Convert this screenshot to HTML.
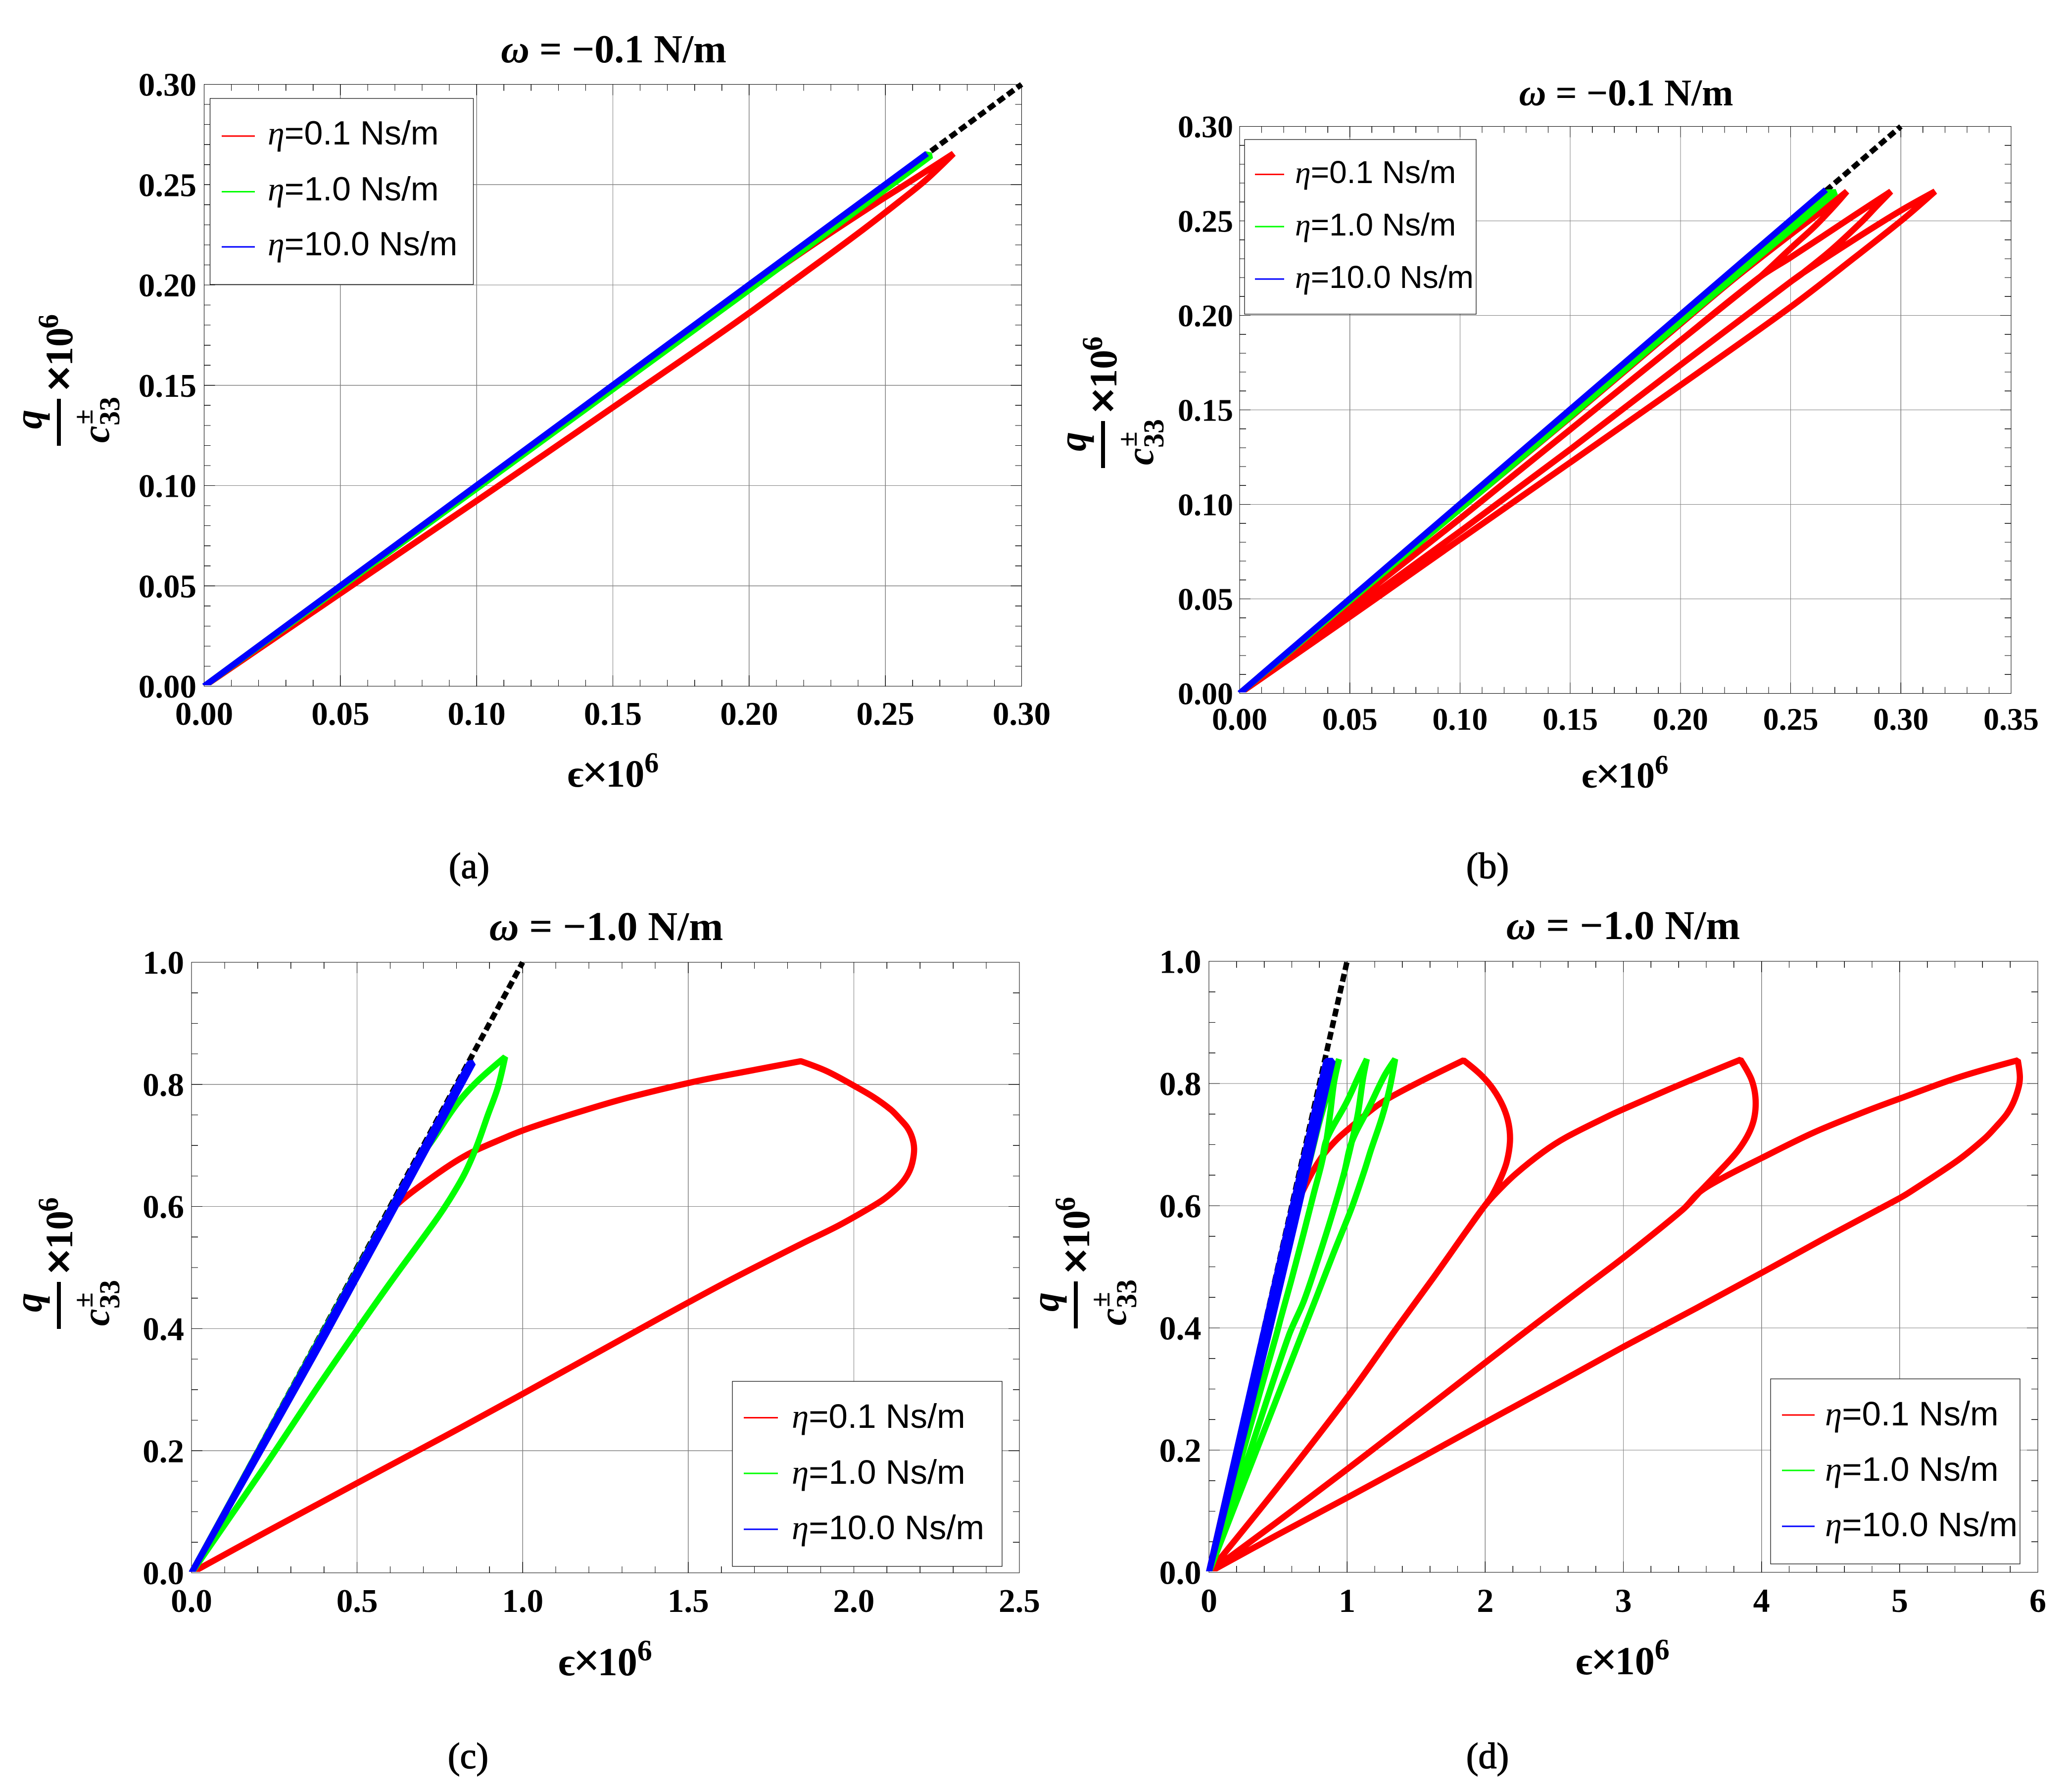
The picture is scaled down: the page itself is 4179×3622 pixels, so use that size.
<!DOCTYPE html>
<html lang="en">
<head>
<meta charset="utf-8">
<title>Strain versus stress loops for varying viscosity</title>
<style>
html,body{margin:0;padding:0;background:#fff;}
svg{display:block;}
.serif{font-family:"Liberation Serif","DejaVu Serif",serif;}
.b{font-family:"Liberation Serif","DejaVu Serif",serif;font-weight:bold;fill:#000;}
.bi{font-family:"Liberation Serif","DejaVu Serif",serif;font-weight:bold;font-style:italic;fill:#000;}
.leg{font-family:"Liberation Sans",sans-serif;fill:#000;}
.eta{font-family:"Liberation Serif","DejaVu Serif",serif;font-style:italic;}
.times{stroke:#000;stroke-width:2px;}
.sub{font-family:"Liberation Serif","DejaVu Serif",serif;font-size:74px;fill:#000;stroke:#000;stroke-width:1.4px;text-anchor:middle;}
</style>
</head>
<body>
<svg xmlns="http://www.w3.org/2000/svg" id="figure" width="4179" height="3622" viewBox="0 0 4179 3622">
<rect x="0" y="0" width="4179" height="3622" fill="#fff"/>
<defs id="clip-defs"></defs>

<!-- PANEL A -->
<g>
  <g id="marks-a"></g>
  <text class="b" x="1240" y="126" font-size="80" text-anchor="middle"><tspan class="bi">ω</tspan> = −0.1 N/m</text>
  <text class="b" x="1239" y="1590" font-size="78" text-anchor="middle">ϵ<tspan font-size="94" dx="-4" dy="2">×</tspan><tspan dx="-5" dy="-2">10</tspan><tspan font-size="58" dy="-29">6</tspan></text>
  <g transform="translate(0,0)">
    <text class="bi" font-size="78" transform="translate(84,867) rotate(-90)">q</text>
    <rect x="115" y="806" width="8" height="95" fill="#000"/>
    <text class="bi" font-size="78" transform="translate(220,895) rotate(-90)">c</text>
    <text class="b" font-size="56" transform="translate(187,858) rotate(-90)">±</text>
    <text class="b" font-size="58" transform="translate(241,860) rotate(-90)">33</text>
    <text class="b times" font-size="96" transform="translate(151,792) rotate(-90)">×</text>
    <text class="b" font-size="78" transform="translate(146,740) rotate(-90)">10</text>
    <text class="b" font-size="58" transform="translate(117,664) rotate(-90)">6</text>
  </g>
  <g>
    <rect x="424.5" y="199" width="532" height="376" fill="#fff" stroke="#000" stroke-width="1.2"/>
    <g><rect x="448" y="273.5" width="67" height="3" fill="#f00"/><text class="leg" x="541" y="292" font-size="68"><tspan class="eta">η</tspan>=0.1 Ns/m</text></g>
    <g><rect x="448" y="386" width="67" height="3" fill="#0f0"/><text class="leg" x="541" y="405" font-size="68"><tspan class="eta">η</tspan>=1.0 Ns/m</text></g>
    <g><rect x="448" y="497.5" width="67" height="3" fill="#00f"/><text class="leg" x="541" y="516" font-size="68"><tspan class="eta">η</tspan>=10.0 Ns/m</text></g>
  </g>
  <text class="sub" x="948" y="1775">(a)</text>
</g>

<!-- PANEL B -->
<g>
  <g id="marks-b"></g>
  <text class="b" x="3286" y="213" font-size="76" text-anchor="middle"><tspan class="bi">ω</tspan> = −0.1 N/m</text>
  <text class="b" x="3284" y="1592" font-size="74" text-anchor="middle">ϵ<tspan font-size="90" dx="-4" dy="2">×</tspan><tspan dx="-5" dy="-2">10</tspan><tspan font-size="55" dy="-28">6</tspan></text>
  <g transform="translate(2110,45)">
    <text class="bi" font-size="78" transform="translate(84,867) rotate(-90)">q</text>
    <rect x="115" y="806" width="8" height="95" fill="#000"/>
    <text class="bi" font-size="78" transform="translate(220,895) rotate(-90)">c</text>
    <text class="b" font-size="56" transform="translate(187,858) rotate(-90)">±</text>
    <text class="b" font-size="58" transform="translate(241,860) rotate(-90)">33</text>
    <text class="b times" font-size="96" transform="translate(151,792) rotate(-90)">×</text>
    <text class="b" font-size="78" transform="translate(146,740) rotate(-90)">10</text>
    <text class="b" font-size="58" transform="translate(117,664) rotate(-90)">6</text>
  </g>
  <g>
    <rect x="2515" y="282" width="468" height="353" fill="#fff" stroke="#000" stroke-width="1.2"/>
    <g><rect x="2536" y="351" width="59" height="3" fill="#f00"/><text class="leg" x="2617" y="370" font-size="64"><tspan class="eta">η</tspan>=0.1 Ns/m</text></g>
    <g><rect x="2536" y="456.5" width="59" height="3" fill="#0f0"/><text class="leg" x="2617" y="476" font-size="64"><tspan class="eta">η</tspan>=1.0 Ns/m</text></g>
    <g><rect x="2536" y="562.5" width="59" height="3" fill="#00f"/><text class="leg" x="2617" y="582" font-size="64"><tspan class="eta">η</tspan>=10.0 Ns/m</text></g>
  </g>
  <text class="sub" x="3006" y="1775">(b)</text>
</g>

<!-- PANEL C -->
<g>
  <g id="marks-c"></g>
  <text class="b" x="1225" y="1900" font-size="83" text-anchor="middle"><tspan class="bi">ω</tspan> = −1.0 N/m</text>
  <text class="b" x="1223" y="3386" font-size="80" text-anchor="middle">ϵ<tspan font-size="96" dx="-4" dy="2">×</tspan><tspan dx="-5" dy="-2">10</tspan><tspan font-size="60" dy="-30">6</tspan></text>
  <g transform="translate(0,1785)">
    <text class="bi" font-size="78" transform="translate(84,867) rotate(-90)">q</text>
    <rect x="115" y="806" width="8" height="95" fill="#000"/>
    <text class="bi" font-size="78" transform="translate(220,895) rotate(-90)">c</text>
    <text class="b" font-size="56" transform="translate(187,858) rotate(-90)">±</text>
    <text class="b" font-size="58" transform="translate(241,860) rotate(-90)">33</text>
    <text class="b times" font-size="96" transform="translate(151,792) rotate(-90)">×</text>
    <text class="b" font-size="78" transform="translate(146,740) rotate(-90)">10</text>
    <text class="b" font-size="58" transform="translate(117,664) rotate(-90)">6</text>
  </g>
  <g>
    <rect x="1480" y="2792" width="545" height="374" fill="#fff" stroke="#000" stroke-width="1.2"/>
    <g><rect x="1503" y="2864" width="69" height="3" fill="#f00"/><text class="leg" x="1600" y="2886" font-size="69"><tspan class="eta">η</tspan>=0.1 Ns/m</text></g>
    <g><rect x="1503" y="2976.5" width="69" height="3" fill="#0f0"/><text class="leg" x="1600" y="2999" font-size="69"><tspan class="eta">η</tspan>=1.0 Ns/m</text></g>
    <g><rect x="1503" y="3089.5" width="69" height="3" fill="#00f"/><text class="leg" x="1600" y="3111" font-size="69"><tspan class="eta">η</tspan>=10.0 Ns/m</text></g>
  </g>
  <text class="sub" x="946" y="3574">(c)</text>
</g>

<!-- PANEL D -->
<g>
  <g id="marks-d"></g>
  <text class="b" x="3280" y="1898" font-size="83" text-anchor="middle"><tspan class="bi">ω</tspan> = −1.0 N/m</text>
  <text class="b" x="3279" y="3384" font-size="80" text-anchor="middle">ϵ<tspan font-size="96" dx="-4" dy="2">×</tspan><tspan dx="-5" dy="-2">10</tspan><tspan font-size="60" dy="-30">6</tspan></text>
  <g transform="translate(2055,1784)">
    <text class="bi" font-size="78" transform="translate(84,867) rotate(-90)">q</text>
    <rect x="115" y="806" width="8" height="95" fill="#000"/>
    <text class="bi" font-size="78" transform="translate(220,895) rotate(-90)">c</text>
    <text class="b" font-size="56" transform="translate(187,858) rotate(-90)">±</text>
    <text class="b" font-size="58" transform="translate(241,860) rotate(-90)">33</text>
    <text class="b times" font-size="96" transform="translate(151,792) rotate(-90)">×</text>
    <text class="b" font-size="78" transform="translate(146,740) rotate(-90)">10</text>
    <text class="b" font-size="58" transform="translate(117,664) rotate(-90)">6</text>
  </g>
  <g>
    <rect x="3578" y="2787" width="504" height="374" fill="#fff" stroke="#000" stroke-width="1.2"/>
    <g><rect x="3601" y="2858.5" width="66" height="3" fill="#f00"/><text class="leg" x="3688" y="2881" font-size="69"><tspan class="eta">η</tspan>=0.1 Ns/m</text></g>
    <g><rect x="3601" y="2970.5" width="66" height="3" fill="#0f0"/><text class="leg" x="3688" y="2993" font-size="69"><tspan class="eta">η</tspan>=1.0 Ns/m</text></g>
    <g><rect x="3601" y="3083.5" width="66" height="3" fill="#00f"/><text class="leg" x="3688" y="3105" font-size="69"><tspan class="eta">η</tspan>=10.0 Ns/m</text></g>
  </g>
  <text class="sub" x="3006" y="3574">(d)</text>
</g>
</svg>

<script>
/* ---------- tick labels ---------- */
const aXTicks = ["0.00","0.05","0.10","0.15","0.20","0.25","0.30"];
const aYTicks = ["0.00","0.05","0.10","0.15","0.20","0.25","0.30"];
const bXTicks = ["0.00","0.05","0.10","0.15","0.20","0.25","0.30","0.35"];
const bYTicks = ["0.00","0.05","0.10","0.15","0.20","0.25","0.30"];
const cXTicks = ["0.0","0.5","1.0","1.5","2.0","2.5"];
const cYTicks = ["0.0","0.2","0.4","0.6","0.8","1.0"];
const dXTicks = ["0","1","2","3","4","5","6"];
const dYTicks = ["0.0","0.2","0.4","0.6","0.8","1.0"];

/* ---------- reference (dashed) lines ---------- */
const aRefEps = [0,0.3];
const aRefQ   = [0,0.3];
const bRefEps = [0,0.3];
const bRefQ   = [0,0.3];
const cRefEps = [0,1];
const cRefQ   = [0,1];
const dRefEps = [0,1];
const dRefQ   = [0,1];

/* ---------- panel a series ---------- */
const aRedEps = [0,0.05,0.1,0.15,0.2,0.225,0.2466,0.2575,0.275,
  0.265,0.255,0.2417,0.2268,0.1927,0.15,0.1002,0.054,0];
const aRedQ   = [0,0.0495,0.099,0.149,0.198,0.2215,0.2408,0.2502,0.2655,
  0.2525,0.2415,0.2275,0.2125,0.179,0.139,0.0926,0.05,0];
const aGreenEps = [0,0.265,0.2668,0.2,0.1,0];
const aGreenQ   = [0,0.265,0.2645,0.1975,0.0985,0];
const aBlueEps = [0,0.2653];
const aBlueQ   = [0,0.2655];

/* ---------- panel b series ---------- */
const bRedEps = [0,0.05,0.1,0.15,0.2,0.225,0.2509,0.2659,0.2755,
  0.2695,0.2609,0.25,0.24,0.236,0.2,0.15,0.1,0.05,0,
  0.05,0.1,0.15,0.2,0.236,0.25,0.265,0.28,0.2955,
  0.289,0.2826,0.2686,0.2556,0.25,0.2,0.15,0.1,0.05,0,
  0.05,0.1,0.15,0.2,0.25,0.2556,0.27,0.285,0.30,0.3155,
  0.3016,0.279,0.25,0.2,0.15,0.1,0.05,0];
const bRedQ = [0,0.049,0.0975,0.146,0.1955,0.22,0.2436,0.2567,0.2656,
  0.2576,0.2471,0.2355,0.2245,0.2203,0.1867,0.1396,0.0925,0.0465,0,
  0.0465,0.0925,0.1396,0.1867,0.2203,0.2307,0.2422,0.2538,0.2656,
  0.2578,0.25,0.2348,0.2225,0.2178,0.1738,0.1291,0.0857,0.0433,0,
  0.0433,0.0857,0.1291,0.1738,0.2178,0.2225,0.2335,0.2447,0.2555,0.2656,
  0.2515,0.2306,0.2045,0.1631,0.1222,0.0815,0.0405,0];
const bGreenEps = [0,0.266,0.2705,0.2,0.15,0.1,0.05,0];
const bGreenQ   = [0,0.265,0.2652,0.1963,0.1465,0.0975,0.049,0];
const bBlueEps = [0,0.266];
const bBlueQ   = [0,0.2665];

/* ---------- panel c series ---------- */
const cRedEps = [0,0.6,0.6225,0.7026,0.8227,0.943,1.023,1.183,1.323,1.523,1.683,1.84,
  1.917,2.0,2.06,2.112,2.14,2.162,2.176,2.182,2.178,2.168,2.15,2.124,2.085,2.024,1.944,1.844,
  1.623,1.423,1.183,0.983,0.783,0.5,0.222,0];
const cRedQ   = [0,0.59,0.6045,0.6385,0.682,0.712,0.729,0.757,0.779,0.805,0.822,0.838,
  0.822,0.798,0.779,0.7585,0.743,0.729,0.713,0.695,0.675,0.658,0.642,0.627,0.61,0.59,0.566,0.5395,
  0.4785,0.42,0.348,0.288,0.229,0.147,0.066,0];
const cGreenEps = [0,0.6,0.673,0.733,0.803,0.863,0.947,
  0.925,0.895,0.86,0.823,0.78,0.737,0.6,0.5025,0.382,0.222,0];
const cGreenQ   = [0,0.595,0.666,0.713,0.769,0.805,0.845,
  0.795,0.75,0.697,0.652,0.612,0.577,0.475,0.4,0.305,0.175,0];
const cBlueEps = [0,0.4,0.84,0.85,0.405,0];
const cBlueQ   = [0,0.395,0.835,0.835,0.39,0];

/* ---------- panel d series ---------- */
const dRedEps = [0,0.6,0.705,0.8145,0.924,1.052,1.198,1.307,1.545,1.843,
  1.966,2.057,2.13,2.17,2.179,2.156,2.112,2.05,1.99,1.856,1.618,1.36,1.007,0.5,0,
  0.5,1.007,1.36,1.618,1.856,1.99,2.084,2.22,2.42,2.586,2.894,3.0,3.335,3.62,3.848,
  3.93,3.958,3.93,3.835,3.668,3.55,3.43,3.0,2.717,2.385,2.005,1.577,1.007,0.485,0,
  0.485,1.007,1.577,2.005,2.385,2.717,3.0,3.43,3.55,3.715,4.0,4.38,4.76,4.997,5.425,5.855,
  5.87,5.862,5.825,5.775,5.7,5.615,5.425,5.092,4.997,4.475,4,3.525,3,2.575,2.005,1.53,1.007,0.485,0];
const dRedQ = [0,0.58,0.636,0.679,0.708,0.7334,0.7605,0.7767,0.805,0.838,
  0.8147,0.791,0.762,0.7334,0.7045,0.672,0.645,0.617,0.598,0.556,0.48,0.4,0.288,0.14,0,
  0.14,0.288,0.4,0.48,0.556,0.598,0.622,0.652,0.688,0.712,0.747,0.758,0.791,0.818,0.839,
  0.805,0.7676,0.73,0.692,0.65,0.622,0.5936,0.515,0.4666,0.41,0.344,0.269,0.17,0.081,0,
  0.081,0.17,0.269,0.344,0.41,0.4666,0.515,0.5936,0.622,0.645,0.678,0.72,0.755,0.775,0.81,0.838,
  0.812,0.795,0.77,0.75,0.73,0.71,0.675,0.625,0.612,0.549,0.49,0.432,0.369,0.316,0.246,0.187,0.123,0.06,0];
const dGreenEps = [0,0.78,0.851,0.942,0.906,0.878,0.851,0.8145,0.76,0.687,0.595,0.522,0.486,0.25,0.125,0,
  0.125,0.25,0.486,0.522,0.595,0.687,0.76,0.8145,0.851,0.997,1.089,1.143,
  1.116,1.079,1.034,0.979,0.906,0.796,0.687,0.577,0.3,0.15,0,
  0.15,0.3,0.577,0.687,0.796,0.906,0.979,1.034,1.161,1.271,1.348,
  1.307,1.253,1.171,1.125,1.034,0.905,0.78,0.668,0.345,0.172,0];
const dGreenQ = [0,0.72,0.777,0.84,0.802,0.7514,0.708,0.668,0.621,0.556,0.477,0.4175,0.387,0.2,0.1,0,
  0.1,0.2,0.387,0.4175,0.477,0.556,0.621,0.668,0.708,0.7695,0.8147,0.84,
  0.809,0.7514,0.7045,0.654,0.596,0.5166,0.444,0.387,0.2,0.1,0,
  0.1,0.2,0.387,0.444,0.5166,0.596,0.654,0.7045,0.762,0.813,0.84,
  0.791,0.745,0.69,0.657,0.597,0.524,0.4514,0.387,0.2,0.1,0];
const dBlueEps = [0,0.39,0.85,0.875,0.41,0,0.43,0.895,0.875];
const dBlueQ   = [0,0.387,0.837,0.837,0.387,0,0.387,0.837,0.837];

/* ---------- layout ---------- */
const SVGNS = 'http://www.w3.org/2000/svg';
const layouts = [
 {id:'a',L:412.5,R:2064.5,T:170.5,B:1387,xMax:0.30,yMax:0.30,xDiv:5,yDiv:5,fs:67,xLabelY:1465,yLabelX:397,
  xTicks:aXTicks,yTicks:aYTicks,ref:[aRefEps,aRefQ],red:[aRedEps,aRedQ],green:[aGreenEps,aGreenQ],blue:[aBlueEps,aBlueQ]},
 {id:'b',L:2505,R:4064,T:255.5,B:1401.5,xMax:0.35,yMax:0.30,xDiv:5,yDiv:5,fs:64,xLabelY:1475,yLabelX:2492,
  xTicks:bXTicks,yTicks:bYTicks,ref:[bRefEps,bRefQ],red:[bRedEps,bRedQ],green:[bGreenEps,bGreenQ],blue:[bBlueEps,bBlueQ]},
 {id:'c',L:387,R:2060,T:1945,B:3179,xMax:2.5,yMax:1,xDiv:5,yDiv:4,fs:67,xLabelY:3258,yLabelX:372,
  xTicks:cXTicks,yTicks:cYTicks,ref:[cRefEps,cRefQ],red:[cRedEps,cRedQ],green:[cGreenEps,cGreenQ],blue:[cBlueEps,cBlueQ]},
 {id:'d',L:2443,R:4118,T:1943,B:3178,xMax:6,yMax:1,xDiv:5,yDiv:4,fs:68,xLabelY:3258,yLabelX:2427.5,
  xTicks:dXTicks,yTicks:dYTicks,ref:[dRefEps,dRefQ],red:[dRedEps,dRedQ],green:[dGreenEps,dGreenQ],blue:[dBlueEps,dBlueQ]}
];
const MAJOR_LEN = 22, MINOR_LEN = 13, CURVE_W = 12.5;

function mk(tag, attrs, parent){
  const n = document.createElementNS(SVGNS, tag);
  for (const k in attrs) n.setAttribute(k, attrs[k]);
  parent.appendChild(n);
  return n;
}
function hairline(parent, x1, y1, x2, y2, color){
  return mk('line',{x1:x1,y1:y1,x2:x2,y2:y2,stroke:color,'stroke-width':1.2,'shape-rendering':'crispEdges'},parent);
}
/* Smooth path through the points; sharp direction changes stay corners. */
function curvePath(pts){
  const n = pts.length;
  function isCorner(i){
    if (i===0 || i===n-1) return true;
    const a = Math.atan2(pts[i][1]-pts[i-1][1], pts[i][0]-pts[i-1][0]);
    const b = Math.atan2(pts[i+1][1]-pts[i][1], pts[i+1][0]-pts[i][0]);
    let t = Math.abs(a-b)*180/Math.PI;
    if (t>180) t = 360-t;
    return t>30;
  }
  function tangent(i){
    const dx = pts[i+1][0]-pts[i-1][0], dy = pts[i+1][1]-pts[i-1][1];
    const l = Math.hypot(dx,dy)||1;
    return [dx/l,dy/l];
  }
  let d = 'M'+pts[0][0].toFixed(1)+' '+pts[0][1].toFixed(1);
  for (let i=0;i<n-1;i++){
    const p=pts[i], q=pts[i+1], len=Math.hypot(q[0]-p[0],q[1]-p[1])/3;
    let c1=p, c2=q;
    if(!isCorner(i)){ const t=tangent(i); c1=[p[0]+t[0]*len,p[1]+t[1]*len]; }
    if(!isCorner(i+1)){ const t=tangent(i+1); c2=[q[0]-t[0]*len,q[1]-t[1]*len]; }
    d += 'C'+c1[0].toFixed(1)+' '+c1[1].toFixed(1)+' '+c2[0].toFixed(1)+' '+c2[1].toFixed(1)+' '+q[0].toFixed(1)+' '+q[1].toFixed(1);
  }
  return d;
}

function drawPanel(p){
  const root = document.getElementById('marks-'+p.id);
  const sx = v => p.L + (v/p.xMax)*(p.R-p.L);
  const sy = v => p.B - (v/p.yMax)*(p.B-p.T);
  const xVals = p.xTicks.map(Number);
  const yVals = p.yTicks.map(Number);

  /* gridlines */
  xVals.forEach(function(v){
    const g = hairline(root, sx(v), p.T, sx(v), p.B, '#808080');
    
    
  });
  yVals.forEach(function(v){
    const g = hairline(root, p.L, sy(v), p.R, sy(v), '#808080');
    
    
  });

  /* ticks on all four sides */
  function xTick(v, len){
    const t1 = hairline(root, sx(v), p.B, sx(v), p.B-len, '#000');
    
    
    const t2 = hairline(root, sx(v), p.T, sx(v), p.T+len, '#000');
    
    
  }
  function yTick(v, len){
    const t1 = hairline(root, p.L, sy(v), p.L+len, sy(v), '#000');
    
    
    const t2 = hairline(root, p.R, sy(v), p.R-len, sy(v), '#000');
    
    
  }
  xVals.forEach(function(v,i){
    xTick(v, MAJOR_LEN);
    if (i<xVals.length-1) for (let k=1;k<p.xDiv;k++) xTick(v+(xVals[i+1]-v)*k/p.xDiv, MINOR_LEN);
  });
  yVals.forEach(function(v,i){
    yTick(v, MAJOR_LEN);
    if (i<yVals.length-1) for (let k=1;k<p.yDiv;k++) yTick(v+(yVals[i+1]-v)*k/p.yDiv, MINOR_LEN);
  });

  /* frame */
  const frame = mk('rect',{x:p.L,y:p.T,width:p.R-p.L,height:p.B-p.T,fill:'none',stroke:'#000','stroke-width':1.4,'shape-rendering':'crispEdges'},root);
  
  

  /* tick labels */
  p.xTicks.forEach(function(s,i){
    const t = mk('text',{x:sx(xVals[i]),y:p.xLabelY,'font-size':p.fs,'text-anchor':'middle','class':'b'},root);
    t.textContent = s;
    
    
  });
  p.yTicks.forEach(function(s,i){
    const t = mk('text',{x:p.yLabelX,y:sy(yVals[i])+p.fs*0.345,'font-size':p.fs,'text-anchor':'end','class':'b'},root);
    t.textContent = s;
    
    
  });

  /* clip */
  const defs = document.getElementById('clip-defs');
  const clip = mk('clipPath',{id:'clip-'+p.id},defs);
  mk('rect',{x:p.L-6,y:p.T-6,width:p.R-p.L+12,height:p.B-p.T+4},clip);

  const plot = mk('g',{'clip-path':'url(#clip-'+p.id+')'},root);
  
  

  function toPts(arrs){ return arrs[0].map(function(x,i){ return [sx(x), sy(arrs[1][i])]; }); }

  /* dashed reference line */
  const rp = toPts(p.ref);
  const refLine = mk('line',{x1:rp[0][0],y1:rp[0][1],x2:rp[1][0],y2:rp[1][1],stroke:'#000','stroke-width':11,'stroke-dasharray':'16 8'},plot);
  
  

  /* series */
  const red = mk('path',{d:curvePath(toPts(p.red)),fill:'none',stroke:'#f00','stroke-width':CURVE_W,'stroke-linejoin':'bevel'},plot);
  
  
  const green = mk('path',{d:curvePath(toPts(p.green)),fill:'none',stroke:'#0f0','stroke-width':CURVE_W,'stroke-linejoin':'bevel'},plot);
  
  
  const blue = mk('path',{d:curvePath(toPts(p.blue)),fill:'none',stroke:'#00f','stroke-width':CURVE_W,'stroke-linejoin':'bevel'},plot);
  
  
}
layouts.forEach(drawPanel);
</script>
</body>
</html>
